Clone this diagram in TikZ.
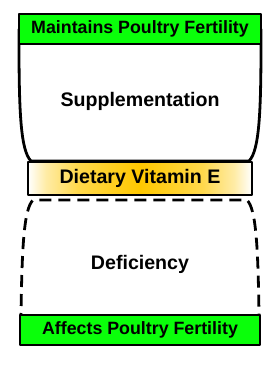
\documentclass[tikz,border=0pt]{standalone}
\usepackage{fontspec}
\setmainfont{Liberation Sans}
\definecolor{brightgreen}{RGB}{10,255,10}
\definecolor{goldc}{RGB}{255,200,0}
\pgfdeclarehorizontalshading{vitshade}{100bp}{color(0bp)=(white); color(25bp)=(white); color(29bp)=(goldc!35); color(36bp)=(goldc!70); color(50bp)=(goldc); color(64bp)=(goldc!70); color(71bp)=(goldc!35); color(75bp)=(white); color(100bp)=(white)}
\begin{document}
\begin{tikzpicture}[x=1pt,y=1pt,
  bord/.style={line width=2.8pt, draw=black, line join=round},
  greenbox/.style={bord, fill=brightgreen, minimum width=242pt, minimum height=30pt, inner sep=0pt, font=\fontsize{17.8}{20}\selectfont\bfseries},
  vitbox/.style={bord, shading=vitshade, minimum width=224pt, minimum height=33pt, inner sep=0pt, font=\fontsize{19.6}{22}\selectfont\bfseries},
  lbl/.style={font=\fontsize{19.6}{22}\selectfont\bfseries, inner sep=0pt}]
\useasboundingbox (0,0) rectangle (278,365);
% supplementation cup
\draw[bord, fill=white] (19,336) -- (19,321) .. controls (19,250) and (21,214) .. (31,204) -- (249,204) .. controls (259,214) and (261,250) .. (261,321) -- (261,336);
% deficiency dashed cup
\draw[bord, dash pattern=on 12pt off 7pt, line cap=butt] (21,40) -- (21,50) .. controls (22,120) and (24,156) .. (33,165) -- (247,165) .. controls (256,156) and (258,120) .. (259,50) -- (259,40);
\node[greenbox] (top) at (140,336) {Maintains Poultry Fertility};
\node[vitbox] (vit) at (140,186.5) {Dietary Vitamin E};
\node[greenbox, minimum width=240pt] (bot) at (140,35) {Affects Poultry Fertility};
\node[lbl] (sup) at (140,264) {Supplementation};
\node[lbl] (def) at (140,101) {Deficiency};
\end{tikzpicture}
\end{document}
